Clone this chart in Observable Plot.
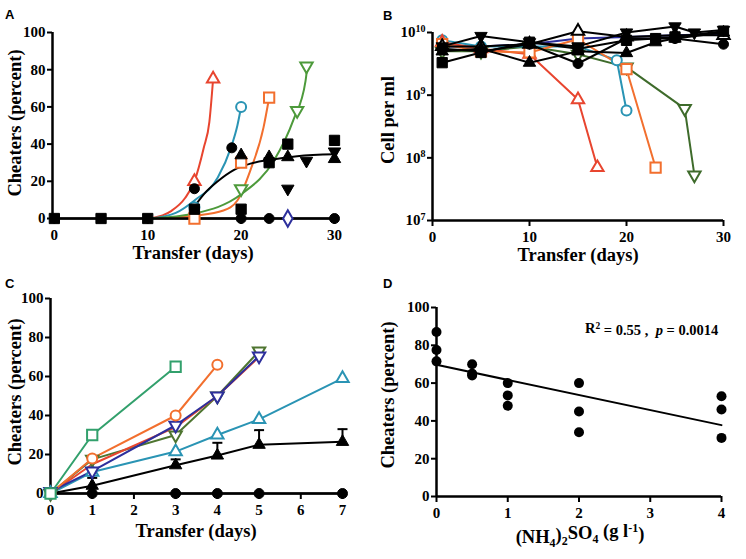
<!DOCTYPE html>
<html><head><meta charset="utf-8">
<script src="https://cdn.jsdelivr.net/npm/d3@7"></script>
<script src="https://cdn.jsdelivr.net/npm/@observablehq/plot@0.6"></script>
<style>
body{margin:0;background:#fff}
#wrap{position:relative;width:746px;height:559px;overflow:hidden;background:#fff}
.panel{position:absolute}
</style></head><body><div id="wrap"></div>
<script>
// ---------------- DATA ----------------
// Panel A: cheaters (percent) vs transfer (days)
const aBlackSqX = [0,5,10,15,20,23,25,30],   aBlackSqY = [0,0,0,5,5,30,40,42];
const aBlackCircX = [15,19,20,23,30],        aBlackCircY = [16,38,0,0,0];
const aBlackTriX = [20,23,25,30],            aBlackTriY = [34,33,33,32];
const aBlackDownX = [25,27,30],              aBlackDownY = [16,31,36];
const aZeroX = [0,30],                       aZeroY = [0,0];
const aRedTriX = [15,17],                    aRedTriY = [20,75];
const aTealCircX = [15,20],                  aTealCircY = [6,60];
const aOrangeSqX = [15,20,23],               aOrangeSqY = [0,30,65];
const aGreenDownX = [20,26,27],              aGreenDownY = [16,58,82];
const aBlueDiaX = [25],                      aBlueDiaY = [0];
// fitted curves
const aRedCurveX = [10.3,12.5,14,15,16,16.6,17],       aRedCurveY = [0,4,11,20,38,52,75];
const aTealCurveX = [10.3,13,15,17.5,18.9,19.6,20],    aTealCurveY = [0,3,9.7,22,38,50,60];
const aOrangeCurveX = [11,15,18.1,19.6,21,22.4,23],    aOrangeCurveY = [0,1.5,4.3,9.7,26,49,65];
const aGreenCurveX = [10.3,15,20,23.5,25.6,26.9,27.1], aGreenCurveY = [0,2.7,13,31,53,74,82];
const aBlackCurveX = [14.8,16,17.5,19.2,21,23,26,30],  aBlackCurveY = [5,13,20,26,29.5,31.5,33.5,34.5];

// Panel B: cells per ml (log)
const bRedX = [1,5,10,15,17],           bRedY = [7e9,5.5e9,4.5e9,8.5e8,7e7];
const bTealX = [1,5,10,15,19,20],       bTealY = [7.5e9,6e9,6e9,6e9,3.6e9,5.7e8];
const bOrangeX = [1,5,10,15,20,23],     bOrangeY = [6.5e9,5e9,4.8e9,7.8e9,2.6e9,7e7];
const bGreenX = [1,5,10,15,20,26,27],   bGreenY = [5e9,5e9,6e9,4.5e9,2.8e9,6.1e8,5.3e7];
const bBlueX = [1,5,10,15,20,25,30],    bBlueY = [6e9,6e9,6.5e9,8e9,8.5e9,9e9,9.5e9];
const bBlackDownX = [1,5,10,15,20,25,27,30], bBlackDownY = [6e9,8.8e9,7e9,6e9,1.0e10,1.25e10,1.0e10,1.1e10];
const bBlackTriX = [1,5,10,15,20,23,25,30],  bBlackTriY = [5e9,5.5e9,3.3e9,5e9,4.7e9,7e9,8e9,1.0e10];
const bBlackCircX = [1,5,10,15,20,23,25,30], bBlackCircY = [5.5e9,5e9,6.5e9,3.2e9,8e9,8e9,8e9,6.5e9];
const bBlackSqX = [1,5,10,15,20,23,25,30],   bBlackSqY = [3.3e9,4.8e9,7e9,5.5e9,7.5e9,8e9,8.5e9,1.05e10];
const bBlackOpenX = [1,5,10,15,20,25,30],    bBlackOpenY = [6e9,6e9,6.5e9,1.05e10,8.5e9,9e9,9e9];
const bYTicks = [1e7,1e8,1e9,1e10];

// Panel C: cheaters (percent) vs transfer (days)
const cCircX = [0,1,3,4,5,7],     cCircY = [0,0,0,0,0,0];
const cTriX = [0,1,3,4,5,7],      cTriY = [0,4,14.5,19.5,25,26.5], cTriErr = [0,8,17.5,26,32.5,33];
const cTealX = [0,1,3,4,5,7],     cTealY = [0,11,21.5,30,38,59];
const cRedX = [0,1,3,4,5],        cRedY = [0,15,34,50,70];
const cDkGreenX = [0,1,3,4,5],    cDkGreenY = [0,17.5,30,50,73];
const cBlueX = [0,1,3,4,5],       cBlueY = [1,11.5,35,50,70.5];
const cOrangeX = [0,1,3,4],       cOrangeY = [0,18,40,66];
const cSeaX = [0,1,3],            cSeaY = [0,30,65];

// Panel D: cheaters vs (NH4)2SO4
const dX = [0,0,0,0.5,0.5,0.5,1,1,1,2,2,2,4,4,4];
const dY = [87,77.5,71.5,70,65,64,60,53.5,48,60,45,34,53,46,31];

// ---------------- STYLE / HELPERS ----------------
const FONT = "'Liberation Serif','Times New Roman',serif";
const TICKFS = 15, TITLEFS = 18.5;
const RED="#e8452f", TEAL="#2a94b4", ORANGE="#f26f2e", GREEN_A="#4d9a3b", GREEN_B="#3e6b2b",
      SEA="#32a06c", DKGREEN="#4e7530", BLUE="#2d2f9c";
const tbl = (xs, ys) => xs.map((x,i)=>({x, y: ys[i]}));
const S3 = Math.sqrt(3);
const downTri = {draw(ctx,size){const y=Math.sqrt(size/(S3*3)); ctx.moveTo(0,y*2); ctx.lineTo(-S3*y,-y); ctx.lineTo(S3*y,-y); ctx.closePath();}};
const capSym = {draw(ctx,size){const w=Math.sqrt(size/Math.PI); ctx.moveTo(-w,0); ctx.lineTo(w,0);}};
const R = {circle:5, square:5.8, triangle:4.6, diamond:5};
function mk(xs, ys, symbol, color, filled){
  const r = symbol===downTri ? R.triangle : R[symbol];
  return Plot.dot(tbl(xs,ys), {x:"x", y:"y", symbol, r, stroke: color, strokeWidth: filled?1:2, fill: filled?color:"white"});
}
function ln(xs, ys, color, curve="linear", w=2){
  return Plot.line(tbl(xs,ys), {x:"x", y:"y", stroke: color, strokeWidth: w, curve});
}
function axes(xTicks, yTicks, xMin, yMin, yFmt){
  const t = {strokeWidth: 2, label: null, fontSize: TICKFS, fontWeight: "bold", fontFamily: FONT};
  return [
    Plot.axisX({...t, ticks: xTicks, tickSize: 6, tickPadding: 5, tickFormat: d=>String(d)}),
    Plot.axisY({...t, ticks: yTicks, tickSize: 5, tickPadding: 2, tickFormat: yFmt || (d=>String(d))}),
    Plot.ruleY([yMin], {stroke:"black", strokeWidth: 2.5}),
    Plot.ruleX([xMin], {stroke:"black", strokeWidth: 2.5})
  ];
}
const svgStyle = {background: "transparent", overflow: "visible", color: "black"};
function fixTicks(svg){
  const s = d3.select(svg);
  s.attr("font-size", TICKFS).attr("font-weight", "bold").attr("font-family", FONT);
  s.selectAll("text").attr("font-size", TICKFS).attr("font-family", FONT).attr("font-weight", "bold")
    .style("font-size", TICKFS + "px").style("font-family", FONT).style("font-weight", "bold");
}
function place(svg, left, top){
  const div = document.createElement("div");
  div.className = "panel"; div.style.left = left+"px"; div.style.top = top+"px";
  div.appendChild(svg); document.getElementById("wrap").appendChild(div);
}
// parts: array of [text, attrs]
function txt(svg, {x, y, rotate=0, anchor="middle", size=TITLEFS, family=FONT, weight="bold"}, parts){
  const t = d3.select(svg).append("text")
    .attr("transform", `translate(${x},${y}) rotate(${rotate})`)
    .attr("text-anchor", anchor).attr("font-family", family).attr("font-weight", weight)
    .attr("font-size", size).attr("fill", "black");
  for (const p of (typeof parts === "string" ? [[parts,{}]] : parts)) {
    const s = t.append("tspan").text(p[0]);
    for (const k in p[1]) s.attr(k, p[1][k]);
  }
  return t;
}
const SANS = "'Liberation Sans',Arial,sans-serif";

// ---------------- PANEL A ----------------
const A = Plot.plot({
  width: 373, height: 280, marginLeft: 52, marginRight: 39, marginTop: 32, marginBottom: 62,
  style: svgStyle,
  x: {domain: [-0.2, 30]}, y: {domain: [0, 100]},
  marks: [
    ln(aZeroX, aZeroY, "black"),
    ln(aRedCurveX, aRedCurveY, RED, "monotone-x"),
    ln(aTealCurveX, aTealCurveY, TEAL, "monotone-x"),
    ln(aOrangeCurveX, aOrangeCurveY, ORANGE, "monotone-x"),
    ln(aGreenCurveX, aGreenCurveY, GREEN_A, "monotone-x"),
    ln(aBlackCurveX, aBlackCurveY, "black", "monotone-x"),
    ...axes([0,10,20,30], [0,20,40,60,80,100], -0.2, 0),
    mk(aTealCircX, aTealCircY, "circle", TEAL, false),
    mk(aRedTriX, aRedTriY, "triangle", RED, false),
    mk(aOrangeSqX, aOrangeSqY, "square", ORANGE, false),
    mk(aGreenDownX, aGreenDownY, downTri, GREEN_A, false),
    mk(aBlueDiaX, aBlueDiaY, "diamond", BLUE, false),
    mk(aBlackSqX, aBlackSqY, "square", "black", true),
    mk(aBlackCircX, aBlackCircY, "circle", "black", true),
    mk(aBlackTriX, aBlackTriY, "triangle", "black", true),
    mk(aBlackDownX, aBlackDownY, downTri, "black", true)
  ]
});
fixTicks(A);
txt(A, {x: 21, y: 123, rotate: -90}, "Cheaters (percent)");
txt(A, {x: 193, y: 259}, "Transfer (days)");
txt(A, {x: 5, y: 19, anchor: "start", size: 13, family: SANS}, "A");
place(A, 0, 0);

// ---------------- PANEL B ----------------
const B = Plot.plot({
  width: 373, height: 280, marginLeft: 59, marginRight: 23, marginTop: 32, marginBottom: 60,
  style: svgStyle,
  x: {domain: [0, 30]}, y: {type: "log", domain: [1e7, 1e10]},
  marks: [
    ln(bBlueX, bBlueY, BLUE),
    ln(bGreenX, bGreenY, GREEN_B),
    ln(bTealX, bTealY, TEAL),
    ln(bRedX, bRedY, RED),
    ln(bOrangeX, bOrangeY, ORANGE),
    mk(bGreenX, bGreenY, downTri, GREEN_B, false),
    mk(bTealX, bTealY, "circle", TEAL, false),
    mk(bRedX, bRedY, "triangle", RED, false),
    mk(bOrangeX, bOrangeY, "square", ORANGE, false),
    ln(bBlackOpenX, bBlackOpenY, "black"),
    ln(bBlackSqX, bBlackSqY, "black"),
    ln(bBlackCircX, bBlackCircY, "black"),
    ln(bBlackTriX, bBlackTriY, "black"),
    ln(bBlackDownX, bBlackDownY, "black"),
    mk(bBlackOpenX, bBlackOpenY, "triangle", "black", false),
    mk(bBlackSqX, bBlackSqY, "square", "black", true),
    mk(bBlackCircX, bBlackCircY, "circle", "black", true),
    mk(bBlackTriX, bBlackTriY, "triangle", "black", true),
    mk(bBlackDownX, bBlackDownY, downTri, "black", true),
    ...axes([0,10,20,30], bYTicks, 0, 1e7, d => "10^" + Math.round(Math.log10(d)))
  ]
});
fixTicks(B);
d3.select(B).selectAll("text").each(function(){
  const m = /^10\^(\d+)$/.exec(this.textContent);
  if (m) { const s = d3.select(this); s.text("10"); s.append("tspan").attr("dy","-0.55em").attr("font-size","10px").style("font-size","10px").text(m[1]); }
});
txt(B, {x: 21, y: 120, rotate: -90}, "Cell per ml");
txt(B, {x: 205, y: 261}, "Transfer (days)");
txt(B, {x: 10, y: 20, anchor: "start", size: 13, family: SANS}, "B");
place(B, 373, 0);

// ---------------- PANEL C ----------------
const cTri = cTriX.map((x,i)=>({x, y: cTriY[i], e: cTriErr[i]}));
const C = Plot.plot({
  width: 373, height: 279, marginLeft: 50, marginRight: 31, marginTop: 18, marginBottom: 66,
  style: svgStyle,
  x: {domain: [0, 7]}, y: {domain: [0, 100]},
  marks: [
    ...axes([0,1,2,3,4,5,6,7], [0,20,40,60,80,100], 0, 0),
    ln(cCircX, cCircY, "black"),
    Plot.ruleX(cTri, {x: "x", y1: "y", y2: "e", stroke: "black", strokeWidth: 2}),
    Plot.dot(cTri.filter(d=>d.e>0), {x: "x", y: "e", symbol: capSym, r: 5, stroke: "black", strokeWidth: 2}),
    ln(cTriX, cTriY, "black"),
    ln(cTealX, cTealY, TEAL),
    ln(cDkGreenX, cDkGreenY, DKGREEN),
    ln(cRedX, cRedY, RED),
    ln(cBlueX, cBlueY, BLUE),
    ln(cOrangeX, cOrangeY, ORANGE),
    ln(cSeaX, cSeaY, SEA),
    mk(cCircX, cCircY, "circle", "black", true),
    mk(cTriX, cTriY, "triangle", "black", true),
    mk(cTealX, cTealY, "triangle", TEAL, false),
    mk(cDkGreenX, cDkGreenY, downTri, DKGREEN, false),
    mk(cBlueX, cBlueY, downTri, BLUE, false),
    mk(cOrangeX, cOrangeY, "circle", ORANGE, false),
    mk(cSeaX, cSeaY, "square", SEA, false)
  ]
});
fixTicks(C);
txt(C, {x: 21, y: 112, rotate: -90}, "Cheaters (percent)");
txt(C, {x: 196, y: 257}, "Transfer (days)");
txt(C, {x: 5, y: 8, anchor: "start", size: 13, family: SANS}, "C");
place(C, 0, 280);

// ---------------- PANEL D ----------------
const dTab = tbl(dX, dY);
const D = Plot.plot({
  width: 373, height: 279, marginLeft: 63, marginRight: 25, marginTop: 27, marginBottom: 63,
  style: svgStyle,
  x: {domain: [0, 4]}, y: {domain: [0, 100]},
  marks: [
    ...axes([0,1,2,3,4], [0,20,40,60,80,100], 0, 0),
    Plot.linearRegressionY(dTab, {x: "x", y: "y", ci: 0, stroke: "black", strokeWidth: 2}),
    Plot.dot(dTab, {x: "x", y: "y", r: 5, fill: "black"})
  ]
});
fixTicks(D);
txt(D, {x: 21, y: 115, rotate: -90}, "Cheaters (percent)");
txt(D, {x: 207, y: 263}, [["(NH",{}],["4",{dy:"0.3em","font-size":"12px"}],[")",{dy:"-0.3em"}],["2",{dy:"0.3em","font-size":"12px"}],["SO",{dy:"-0.3em"}],["4",{dy:"0.3em","font-size":"12px"}],[" (g l",{dy:"-0.3em"}],["-1",{dy:"-0.45em","font-size":"12px"}],[")",{dy:"0.45em"}]]);
txt(D, {x: 212, y: 53, anchor: "start", size: 14.5}, [["R",{}],["2",{dy:"-0.45em","font-size":"9.5px"}],[" = 0.55 ,  ",{dy:"0.45em"}],["p",{"font-style":"italic"}],[" = 0.0014",{}]]);
txt(D, {x: 10, y: 8, anchor: "start", size: 13, family: SANS}, "D");
place(D, 373, 280);
</script>
</body></html>
